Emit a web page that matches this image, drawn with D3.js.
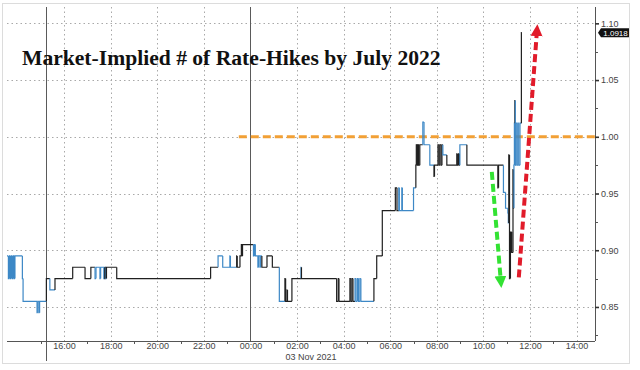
<!DOCTYPE html>
<html>
<head>
<meta charset="utf-8">
<script src="https://cdn.jsdelivr.net/npm/d3@7"></script>
<style>
  html, body { margin: 0; padding: 0; background: #fff; }
  svg { display: block; }
</style>
</head>
<body>
<div id="chart"></div>
<script>
'use strict';

// Data: hours relative to 03 Nov 2021 00:00, implied hikes, tone (b = blue tick, k = black tick)
let tickHours = [
  -10.45, -10.39, -10.34, -10.30, -10.26, -10.21, -10.17, -10.13, -10.11, -9.79,
  -9.76, -9.16, -9.13, -9.08, -9.05, -8.76, -8.61, -8.39, -7.63, -7.10,
  -6.85, -6.67, -6.63, -6.46, -6.43, -6.29, -6.27, -6.25, -6.22, -6.20,
  -6.18, -5.74, -1.71, -1.39, -1.19, -0.88, -0.86, -0.59, -0.57, -0.45,
  -0.39, -0.36, -0.34, 0.13, 0.17, 0.21, 0.32, 0.35, 0.41, 0.44,
  0.49, 0.71, 0.94, 1.24, 1.48, 1.51, 1.57, 1.59, 1.78, 2.17,
  2.19, 3.70, 3.77, 3.80, 4.27, 4.31, 4.36, 4.40, 4.49, 4.53,
  4.59, 4.64, 4.70, 4.74, 5.30, 5.42, 5.66, 6.22, 6.29, 6.37,
  6.39, 6.50, 6.52, 7.00, 7.10, 7.12, 7.15, 7.17, 7.19, 7.21,
  7.23, 7.27, 7.40, 7.45, 7.70, 7.88, 7.90, 8.05, 8.09, 8.13,
  8.18, 8.22, 8.26, 8.43, 8.86, 8.88, 8.93, 8.97, 8.99, 9.29,
  10.62, 10.65, 10.86, 10.95, 11.05, 11.07, 11.09, 11.12, 11.16, 11.18,
  11.20, 11.22, 11.27, 11.29, 11.31, 11.33, 11.35, 11.37, 11.40, 11.44,
  11.48, 11.52, 11.57, 11.63
];
let tickValues = [
  0.895, 0.875, 0.895, 0.875, 0.895, 0.875, 0.895, 0.875, 0.895, 0.875,
  0.855, 0.845, 0.855, 0.845, 0.855, 0.875, 0.865, 0.875, 0.885, 0.875,
  0.885, 0.875, 0.885, 0.875, 0.885, 0.875, 0.885, 0.875, 0.885, 0.875,
  0.885, 0.875, 0.885, 0.895, 0.885, 0.895, 0.885, 0.895, 0.885, 0.895,
  0.905, 0.895, 0.905, 0.895, 0.905, 0.895, 0.885, 0.895, 0.885, 0.895,
  0.885, 0.895, 0.885, 0.855, 0.875, 0.855, 0.865, 0.855, 0.875, 0.885,
  0.875, 0.855, 0.875, 0.855, 0.875, 0.855, 0.875, 0.855, 0.875, 0.855,
  0.875, 0.855, 0.875, 0.855, 0.875, 0.895, 0.935, 0.955, 0.935, 0.955,
  0.935, 0.955, 0.935, 0.955, 0.975, 0.993, 0.975, 0.993, 0.975, 0.993,
  0.975, 0.993, 1.013, 0.993, 0.975, 0.965, 0.975, 0.993, 0.975, 0.993,
  0.975, 0.993, 0.984, 0.975, 0.985, 0.975, 0.985, 0.975, 0.993, 0.975,
  0.955, 0.975, 0.951, 0.937, 0.933, 0.924, 0.984, 0.875, 0.916, 0.898,
  0.916, 0.898, 0.971, 0.937, 0.975, 1.012, 1.032, 0.975, 1.012, 0.975,
  1.012, 0.975, 1.012, 1.0918
];
let tickTones = (
  'bbbbbbbbbb' + 'bbbbbkbkkk' + 'kbbbbbbkkb' + 'kkkbbbbkkk' + 'kkkbbbbbbb' +
  'kkkbkkkkkb' + 'kkkkkkkkbb' + 'bbbbkkkkkb' + 'bbbbkkkkkk' + 'kkbbbkkkkk' +
  'kkbkkkkkbk' + 'kkbbbbkkkk' + 'kkkkbbkbbb' + 'bbbk'
).split('');
let lastHour = 11.65;

let yTicks = [0.85, 0.90, 0.95, 1.00, 1.05, 1.10];
let yMinorTicks = [0.825, 0.875, 0.925, 0.975, 1.025, 1.075];
let xTickHours = [-8, -6, -4, -2, 0, 2, 4, 6, 8, 10, 12, 14];
let xMinorHours = [-9, -7, -5, -3, -1, 1, 3, 5, 7, 9, 11, 13];
let sessionBreaks = [-8.79, 0];

let thresholdLevel = 1.00;
let thresholdStart = -0.50;
let dropArrow = { from: [10.36, 0.969], to: [10.75, 0.872] };
let surgeArrow = { from: [11.52, 0.876], to: [12.30, 1.094] };

let titleText = 'Market-Implied # of Rate-Hikes by July 2022';
let dateLabel = '03 Nov 2021';

// Formatting
let format = {
  width: 640,
  height: 370,
  left: 7,
  right: 595,
  top: 7,
  bottom: 341,
  xStart: -10.45,
  xEnd: 14.79,
  yMin: 0.82,
  yMax: 1.1144,
};

let blueColor = '#3d88c6';
let blackColor = '#202020';
let gridColor = '#a9a9a9';
let axisColor = '#555';
let labelColor = '#444';
let orangeColor = '#f2a035';
let greenColor = '#33e233';
let redColor = '#e11b2a';

let baseDate = new Date(2021, 10, 3, 0, 0, 0);
let toDate = (h) => new Date(baseDate.getTime() + h * 3600 * 1000);

function setup(){
  let svg = d3.select('#chart').append('svg')
    .attr('width', format.width)
    .attr('height', format.height);

  let xScale = d3.scaleTime()
    .domain([toDate(format.xStart), toDate(format.xEnd)])
    .range([format.left, format.right]);
  let yScale = d3.scaleLinear()
    .domain([format.yMin, format.yMax])
    .range([format.bottom, format.top]);

  let xh = (h) => xScale(toDate(h));

  // outer frame
  svg.append('rect')
    .attr('x', 2.5).attr('y', 3.5)
    .attr('width', 627).attr('height', 360)
    .attr('fill', 'none')
    .attr('stroke', '#dcdcdc');

  // grid
  svg.append('g').selectAll('line')
    .data(yTicks)
    .enter().append('line')
    .attr('x1', format.left).attr('x2', format.right)
    .attr('y1', (d) => Math.round(yScale(d)) + 0.5)
    .attr('y2', (d) => Math.round(yScale(d)) + 0.5)
    .attr('stroke', gridColor)
    .attr('stroke-dasharray', '1.5,3');

  svg.append('g').selectAll('line')
    .data(xTickHours)
    .enter().append('line')
    .attr('x1', (d) => Math.round(xh(d)) + 0.5)
    .attr('x2', (d) => Math.round(xh(d)) + 0.5)
    .attr('y1', format.top).attr('y2', format.bottom)
    .attr('stroke', gridColor)
    .attr('stroke-dasharray', '1.5,3');

  // session separators
  svg.append('g').selectAll('line')
    .data(sessionBreaks)
    .enter().append('line')
    .attr('x1', (d) => Math.round(xh(d)) + 0.5)
    .attr('x2', (d) => Math.round(xh(d)) + 0.5)
    .attr('y1', format.top)
    .attr('y2', (d, i) => i == 0 ? 361 : format.bottom)
    .attr('stroke', '#5a5a5a');

  // title
  svg.append('text')
    .attr('x', 22)
    .attr('y', 65)
    .attr('font-family', '"Liberation Serif", "DejaVu Serif", serif')
    .attr('font-weight', 'bold')
    .attr('font-size', 21.6)
    .attr('fill', '#111')
    .text(titleText);

  // x axis
  let xAxis = d3.axisBottom(xScale)
    .tickValues(xTickHours.map(toDate))
    .tickFormat(d3.timeFormat('%H:%M'))
    .tickSize(0)
    .tickPadding(2);
  let xg = svg.append('g')
    .attr('transform', `translate(0,${format.bottom})`)
    .call(xAxis);
  xg.select('.domain')
    .attr('d', `M${format.left},0.5H${format.right}`)
    .attr('stroke', axisColor);
  xg.selectAll('text')
    .attr('font-family', '"Liberation Sans", Arial, sans-serif')
    .attr('font-size', 9)
    .attr('fill', labelColor);

  svg.append('g').selectAll('line')
    .data(xMinorHours)
    .enter().append('line')
    .attr('x1', (d) => Math.round(xh(d)) + 0.5)
    .attr('x2', (d) => Math.round(xh(d)) + 0.5)
    .attr('y1', format.bottom).attr('y2', format.bottom + 3)
    .attr('stroke', axisColor);

  svg.append('text')
    .attr('x', xh(2.6))
    .attr('y', 360)
    .attr('text-anchor', 'middle')
    .attr('font-family', '"Liberation Sans", Arial, sans-serif')
    .attr('font-size', 9)
    .attr('fill', labelColor)
    .text(dateLabel);

  // y axis (right)
  let yAxis = d3.axisRight(yScale)
    .tickValues(yTicks)
    .tickFormat(d3.format('.2f'))
    .tickSize(4)
    .tickPadding(2);
  let yg = svg.append('g')
    .attr('transform', `translate(${format.right},0)`)
    .call(yAxis);
  yg.select('.domain')
    .attr('d', `M0.5,${format.top}V${format.bottom}`)
    .attr('stroke', axisColor);
  yg.selectAll('.tick line')
    .attr('stroke', '#333')
    .attr('stroke-width', 1.6);
  yg.selectAll('text')
    .attr('font-family', '"Liberation Sans", Arial, sans-serif')
    .attr('font-size', 9)
    .attr('fill', labelColor);

  svg.append('g').selectAll('line')
    .data(yMinorTicks)
    .enter().append('line')
    .attr('x1', format.right).attr('x2', format.right + 3)
    .attr('y1', (d) => Math.round(yScale(d)) + 0.5)
    .attr('y2', (d) => Math.round(yScale(d)) + 0.5)
    .attr('stroke', axisColor);

  // threshold line at 1.00
  svg.append('line')
    .attr('x1', xh(thresholdStart))
    .attr('x2', format.right)
    .attr('y1', yScale(thresholdLevel))
    .attr('y2', yScale(thresholdLevel))
    .attr('stroke', orangeColor)
    .attr('stroke-width', 3)
    .attr('stroke-dasharray', '8,4');

  // tick series drawn as steps, one piece per tick
  let points = tickHours.map((h, i) => ({ h: h, v: tickValues[i], tone: tickTones[i] }));
  let stepLine = d3.line()
    .x((d) => xh(d.h))
    .y((d) => yScale(d.v));

  let pieces = points.map((p, i) => {
    let prevV = i > 0 ? points[i - 1].v : p.v;
    let nextH = i < points.length - 1 ? points[i + 1].h : lastHour;
    return {
      tone: p.tone,
      path: [{ h: p.h, v: prevV }, { h: p.h, v: p.v }, { h: nextH, v: p.v }]
    };
  });

  svg.append('g').selectAll('path')
    .data(pieces)
    .enter().append('path')
    .attr('d', (d) => stepLine(d.path))
    .attr('fill', 'none')
    .attr('stroke', (d) => d.tone == 'b' ? blueColor : blackColor)
    .attr('stroke-width', 1.2);

  // arrows
  let defs = svg.append('defs');
  function addHead(id, color){
    defs.append('marker')
      .attr('id', id)
      .attr('viewBox', '0 0 10 10')
      .attr('refX', 5).attr('refY', 5)
      .attr('markerUnits', 'userSpaceOnUse')
      .attr('markerWidth', 12).attr('markerHeight', 12)
      .attr('orient', 'auto')
      .append('path')
      .attr('d', 'M0,0L10,5L0,10Z')
      .attr('fill', color);
  }
  addHead('headGreen', greenColor);
  addHead('headRed', redColor);

  function drawArrow(arrow, color, head){
    svg.append('line')
      .attr('x1', xh(arrow.from[0]))
      .attr('y1', yScale(arrow.from[1]))
      .attr('x2', xh(arrow.to[0]))
      .attr('y2', yScale(arrow.to[1]))
      .attr('stroke', color)
      .attr('stroke-width', 4)
      .attr('stroke-dasharray', '8,4')
      .attr('marker-end', `url(#${head})`);
  }
  drawArrow(dropArrow, greenColor, 'headGreen');
  drawArrow(surgeArrow, redColor, 'headRed');

  // last price tag
  let lastValue = tickValues[tickValues.length - 1];
  let ty = yScale(lastValue);
  let tx = format.right + 3;
  svg.append('path')
    .attr('d', `M${tx},${ty}L${tx + 3},${ty - 4.5}H${tx + 31}V${ty + 4.5}H${tx + 3}Z`)
    .attr('fill', '#111');
  svg.append('text')
    .attr('x', tx + 17.5)
    .attr('y', ty + 3)
    .attr('text-anchor', 'middle')
    .attr('font-family', '"Liberation Sans", Arial, sans-serif')
    .attr('font-size', 8)
    .attr('fill', '#fff')
    .text(d3.format('.4f')(lastValue));
}

window.onload = setup;
</script>
</body>
</html>
